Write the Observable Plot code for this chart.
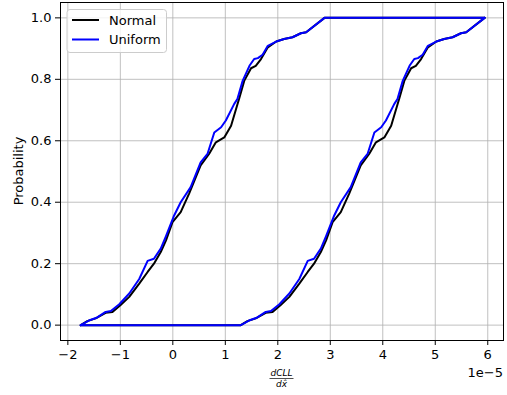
<!DOCTYPE html>
<html>
<head>
<meta charset="utf-8">
<script src="https://cdn.jsdelivr.net/npm/d3@7"></script>
<script src="https://cdn.jsdelivr.net/npm/@observablehq/plot@0.6"></script>
<style>
  html, body { margin: 0; padding: 0; background: #fff; }
  #chart svg { font-family: "DejaVu Sans", sans-serif; display: block; }
</style>
</head>
<body>
<div id="chart"></div>
<script>
// x values in units of 1e-5
const normalLowerX = [-1.755, -1.63, -1.47, -1.28, -1.15, -1.0, -0.83, -0.64, -0.48, -0.36, -0.23, -0.13, -0.006, 0.15, 0.31, 0.53, 0.69, 0.82, 0.98, 1.11, 1.27, 1.36, 1.49, 1.58, 1.68, 1.81, 1.97, 2.12, 2.28, 2.44, 2.54, 2.89, 5.94];
const normalLowerP = [0, 0.013, 0.022, 0.04, 0.043, 0.065, 0.092, 0.135, 0.173, 0.2, 0.238, 0.276, 0.335, 0.368, 0.428, 0.52, 0.557, 0.595, 0.611, 0.649, 0.741, 0.795, 0.836, 0.844, 0.866, 0.904, 0.923, 0.931, 0.937, 0.95, 0.953, 1.0, 1.0];
const normalUpperX = [-1.755, 1.295, 1.42, 1.58, 1.77, 1.90, 2.05, 2.22, 2.41, 2.57, 2.69, 2.82, 2.92, 3.044, 3.20, 3.36, 3.58, 3.74, 3.87, 4.03, 4.16, 4.32, 4.41, 4.54, 4.63, 4.73, 4.86, 5.02, 5.17, 5.33, 5.49, 5.59, 5.94];
const normalUpperP = [0, 0, 0.013, 0.022, 0.04, 0.043, 0.065, 0.092, 0.135, 0.173, 0.2, 0.238, 0.276, 0.335, 0.368, 0.428, 0.52, 0.557, 0.595, 0.611, 0.649, 0.741, 0.795, 0.836, 0.844, 0.866, 0.904, 0.923, 0.931, 0.937, 0.95, 0.953, 1.0];

const uniformLowerX = [-1.755, -1.6, -1.44, -1.28, -1.18, -1.02, -0.83, -0.64, -0.48, -0.36, -0.23, -0.13, 0.025, 0.15, 0.34, 0.53, 0.66, 0.79, 0.92, 1.01, 1.17, 1.23, 1.33, 1.46, 1.55, 1.62, 1.71, 1.81, 1.97, 2.12, 2.28, 2.44, 2.54, 2.89, 5.94];
const uniformLowerP = [0, 0.015, 0.025, 0.043, 0.046, 0.068, 0.103, 0.15, 0.209, 0.216, 0.249, 0.29, 0.357, 0.40, 0.449, 0.53, 0.557, 0.627, 0.644, 0.666, 0.72, 0.736, 0.795, 0.844, 0.866, 0.869, 0.88, 0.909, 0.923, 0.931, 0.937, 0.95, 0.953, 1.0, 1.0];
const uniformUpperX = [-1.755, 1.295, 1.45, 1.61, 1.77, 1.87, 2.03, 2.22, 2.41, 2.57, 2.69, 2.82, 2.92, 3.075, 3.20, 3.39, 3.58, 3.71, 3.84, 3.97, 4.06, 4.22, 4.28, 4.38, 4.51, 4.60, 4.67, 4.76, 4.86, 5.02, 5.17, 5.33, 5.49, 5.59, 5.94];
const uniformUpperP = [0, 0, 0.015, 0.025, 0.043, 0.046, 0.068, 0.103, 0.15, 0.209, 0.216, 0.249, 0.29, 0.357, 0.40, 0.449, 0.53, 0.557, 0.627, 0.644, 0.666, 0.72, 0.736, 0.795, 0.844, 0.866, 0.869, 0.88, 0.909, 0.923, 0.931, 0.937, 0.95, 0.953, 1.0];

const seriesNames = ["Normal", "Uniform"];
const seriesColors = ["#000000", "#0000ff"];
const xTicks = [-2, -1, 0, 1, 2, 3, 4, 5, 6];
const yTicks = [0, 0.2, 0.4, 0.6, 0.8, 1.0];

const toRows = (xs, ps, bound) => xs.map((x, i) => ({x, p: ps[i], bound}));
const normalRows = [...toRows(normalLowerX, normalLowerP, "lower"), ...toRows(normalUpperX, normalUpperP, "upper")];
const uniformRows = [...toRows(uniformLowerX, uniformLowerP, "lower"), ...toRows(uniformUpperX, uniformUpperP, "upper")];

const W = 507, H = 395;
const mL = 60, mR = 4, mT = 2, mB = 55;

const chart = Plot.plot({
  width: W,
  height: H,
  marginLeft: mL,
  marginRight: mR,
  marginTop: mT,
  marginBottom: mB,
  style: {fontFamily: "DejaVu Sans, sans-serif", fontSize: "13px", color: "#000", background: "#fff"},
  x: {domain: [-2.14, 6.30]},
  y: {domain: [-0.05, 1.05]},
  marks: [
    Plot.gridX(xTicks, {stroke: "#b0b0b0", strokeOpacity: 1, strokeWidth: 0.8}),
    Plot.gridY(yTicks, {stroke: "#b0b0b0", strokeOpacity: 1, strokeWidth: 0.8}),
    Plot.line(normalRows, {x: "x", y: "p", z: "bound", stroke: seriesColors[0], strokeWidth: 2, strokeLinejoin: "round"}),
    Plot.line(uniformRows, {x: "x", y: "p", z: "bound", stroke: seriesColors[1], strokeWidth: 2, strokeLinejoin: "round"}),
    Plot.frame({stroke: "#000", strokeWidth: 1}),
    Plot.axisX(xTicks, {tickSize: 5, tickPadding: 4, fontSize: 13, label: null}),
    Plot.axisY(yTicks, {tickSize: 5, tickPadding: 4, fontSize: 13, label: null, tickFormat: d => d.toFixed(1)})
  ]
});

document.getElementById("chart").appendChild(chart);

// Annotations: axis labels, offset text, legend
const svg = d3.select(chart);
const cx = (mL + (W - mR)) / 2;

svg.append("text")
  .attr("transform", `translate(22.5, ${(mT + (H - mB)) / 2}) rotate(-90)`)
  .attr("text-anchor", "middle")
  .attr("font-size", 13)
  .attr("fill", "#000")
  .text("Probability");

const frac = svg.append("g").attr("font-size", 9).attr("fill", "#000").attr("text-anchor", "middle");
frac.append("text").attr("x", cx).attr("y", 376).attr("font-style", "italic").text("dCLL");
frac.append("line").attr("x1", cx - 12).attr("x2", cx + 12).attr("y1", 378.5).attr("y2", 378.5).attr("stroke", "#000").attr("stroke-width", 0.7);
const den = frac.append("text").attr("x", cx).attr("y", 387).attr("font-style", "italic");
den.append("tspan").text("d");
den.append("tspan").text("x\u0302");

svg.append("text")
  .attr("x", W - mR)
  .attr("y", 377)
  .attr("text-anchor", "end")
  .attr("font-size", 13)
  .attr("fill", "#000")
  .text("1e\u22125");

const leg = svg.append("g").attr("text-anchor", "start");
leg.append("rect")
  .attr("x", 67).attr("y", 9.5).attr("width", 99.5).attr("height", 43)
  .attr("rx", 3).attr("fill", "#fff").attr("fill-opacity", 0.8)
  .attr("stroke", "#cccccc").attr("stroke-width", 1);
seriesNames.forEach((name, i) => {
  const yy = 20 + i * 19.5;
  leg.append("line").attr("x1", 72).attr("x2", 99).attr("y1", yy).attr("y2", yy)
    .attr("stroke", seriesColors[i]).attr("stroke-width", 2);
  leg.append("text").attr("x", 109).attr("y", yy).attr("dy", "0.35em")
    .attr("text-anchor", "start")
    .attr("font-size", 13).attr("fill", "#000").text(name);
});
</script>
</body>
</html>
